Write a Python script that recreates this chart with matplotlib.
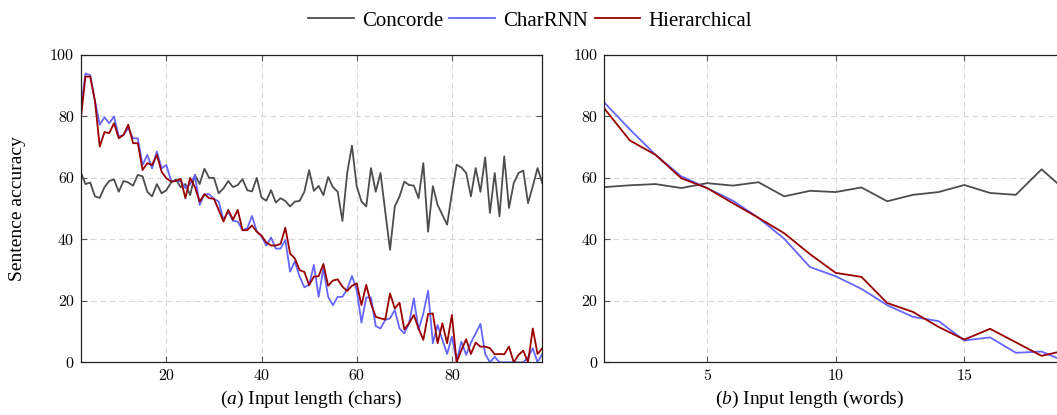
import matplotlib
matplotlib.use("Agg")
import matplotlib.pyplot as plt
import numpy as np

plt.rcParams['mathtext.fontset'] = 'custom'
plt.rcParams['mathtext.rm'] = 'Liberation Serif'
plt.rcParams['mathtext.it'] = 'Liberation Serif:italic'

# ---------------- data: (a) input length in characters ----------------
chars_x = list(range(2, 100))
chars_concorde = [
    62, 58, 58.5, 54, 53.5, 57, 59, 59.5, 55.5, 59, 58.5, 57.5, 61, 60.5,
    55.5, 54, 58, 55, 56, 58.5, 59.5, 57, 58, 54.4, 61, 58, 63, 60, 60,
    55, 56.6, 59, 57, 57.7, 59.6, 56, 55.6, 60, 53.6, 52.6, 56, 52, 53.4,
    52.5, 50.7, 52.3, 52.5, 55.5, 62.5, 55.8, 57.4, 54.4, 60.3, 57, 55.5,
    46, 61.6, 70.5, 57.3, 52.3, 50.7, 63.2, 55.5, 61.6, 49, 36.6, 50.7,
    54, 58.8, 57.7, 57.5, 53.4, 64.8, 42.5, 57.3, 51.2, 48, 44.8, 55,
    64.3, 63.4, 61.6, 54, 63.2, 55.5, 66.7, 48.6, 61.6, 47.5, 67, 50.2,
    58.3, 61.6, 62.4, 51.8, 57.3, 63.2, 58.3,
]
chars_charrnn = [
    82, 94, 93.4, 85, 77.3, 79.7, 77.8, 80, 73.5, 74, 76.2, 72.9, 72.9,
    64.2, 67.5, 63.1, 68.6, 63.1, 64.2, 59, 59, 59, 56.7, 58, 60.8, 51.2,
    54.7, 54.7, 53.2, 52.3, 46.4, 49, 46, 45.8, 43, 43.6, 47.6, 42.6, 40.9,
    38, 40.6, 37, 37, 39.8, 29.5, 32.8, 27.9, 24.4, 25.2, 31.7, 21.3, 30.6,
    21.3, 18.6, 21.3, 21.3, 23.8, 28.1, 23.5, 12.9, 21.1, 21.1, 11.8, 11,
    13.8, 14.3, 17, 11, 9.4, 12.7, 20.8, 10.5, 15.9, 23.3, 6.2, 12.1, 7.3,
    2.7, 8.4, 0.5, 6.7, 2.4, 6.4, 9.4, 12.5, 2.7, 0, 1.8, 0, 0, 0, 0, 0,
    0, 1.6, 4.6, 0, 2.7,
]
chars_hier = [
    79, 93, 93, 85, 70.2, 74.9, 74.6, 77.8, 72.9, 74, 77.3, 71.3, 71.3,
    62.6, 64.8, 64.2, 67.5, 62, 59.9, 58.8, 59, 59.7, 53.4, 60, 57, 52.3,
    54.7, 53.4, 53.2, 49.6, 45.8, 49.6, 46.4, 49.6, 43, 43, 44.5, 42.5,
    41.2, 39, 38, 38, 38.5, 43.8, 35.4, 33.8, 30, 29.4, 25.1, 27.9, 28,
    32, 24.9, 26.6, 27, 24.6, 23.2, 24.9, 25.7, 18.6, 25.2, 19.1, 14.8,
    14.3, 13.9, 22.4, 17.5, 19.4, 10.7, 12.7, 15.4, 11, 7.3, 15.7, 15.9,
    6.2, 12.7, 6.2, 15.4, 0, 4, 7.5, 2.7, 6.4, 5.1, 5.1, 4.6, 2.6, 2.7,
    2.6, 5.1, 0, 2.4, 3.8, 0, 11, 2.7, 4.6,
]

# ---------------- data: (b) input length in words ----------------
words_x = list(range(1, 20))
words_concorde = [57, 57.6, 58, 56.7, 58.3, 57.5, 58.6, 54, 55.8, 55.4,
                  56.9, 52.4, 54.5, 55.4, 57.7, 55.1, 54.5, 62.8, 55.4]
words_charrnn = [84.6, 75.8, 67.5, 60.5, 56.7, 52.6, 47, 40.2, 31, 28,
                 23.9, 18.6, 14.8, 13.4, 7.1, 8.1, 3.1, 3.5, 0]
words_hier = [82.7, 72.2, 67.5, 59.9, 56.7, 51.8, 47, 42, 35.2, 29.1,
              27.8, 19.3, 16.4, 11.5, 7.4, 10.9, 6.5, 2.1, 4]

series_names = ["Concorde", "CharRNN", "Hierarchical"]
colors = ["#4d4d4d", "#6666ff", "#990000"]
yticks = [0, 20, 40, 60, 80, 100]

W, H = 1057, 415
fig = plt.figure(figsize=(W / 100, H / 100), dpi=100)

def px_axes(l, r, t, b):
    return fig.add_axes([l / W, 1 - b / H, (r - l) / W, (b - t) / H])

ax1 = px_axes(80.7, 542.3, 55, 362.3)
ax2 = px_axes(604.1, 1067.3, 55, 362.3)

def style(ax, xticks, right_ticks):
    ax.set_ylim(0, 100)
    ax.set_yticks(yticks)
    ax.set_xticks(xticks)
    ax.grid(True, color="#d6d6d6", linestyle=(0, (5, 3.5)), linewidth=0.8)
    ax.set_axisbelow(True)
    ax.tick_params(direction="in", length=4.5, width=0.8, color="#555555",
                   top=True, right=right_ticks, pad=5)
    for lab in ax.get_xticklabels() + ax.get_yticklabels():
        lab.set_fontfamily("cmr10")
        lab.set_fontsize(11.5)
    for s in ax.spines.values():
        s.set_linewidth(0.9)
        s.set_color("#222222")

lines = []
for ys, c, n in zip([chars_concorde, chars_charrnn, chars_hier], colors, series_names):
    l, = ax1.plot(chars_x, ys, color=c, lw=1.3, label=n)
    lines.append(l)
for ys, c in zip([words_concorde, words_charrnn, words_hier], colors):
    ax2.plot(words_x, ys, color=c, lw=1.3)

ax1.set_xlim(chars_x[0], chars_x[-1])
ax2.set_xlim(words_x[0], words_x[-1])
style(ax1, [20, 40, 60, 80], True)
style(ax2, [5, 10, 15], False)

ax1.set_ylabel("Sentence accuracy", fontfamily="Liberation Serif", fontsize=14)
ax1.yaxis.set_label_coords((26 - 80.7) / 461.6, 0.5)

fig.text(((80.7 + 542.3) / 2) / W, 1 - 399 / H, r"($\mathit{a}$) Input length (chars)",
         ha="center", va="center", fontfamily="Liberation Serif", fontsize=14)
fig.text(810 / W, 1 - 399 / H, r"($\mathit{b}$) Input length (words)",
         ha="center", va="center", fontfamily="Liberation Serif", fontsize=14)

fig.legend(handles=lines, labels=series_names, loc="center", ncol=3,
           bbox_to_anchor=(530 / W, 1 - 21 / H), frameon=False,
           prop=dict(family="Liberation Serif", size=15), handlelength=2.2,
           handletextpad=0.4, columnspacing=0.3)

fig.savefig("out.png", dpi=100)
